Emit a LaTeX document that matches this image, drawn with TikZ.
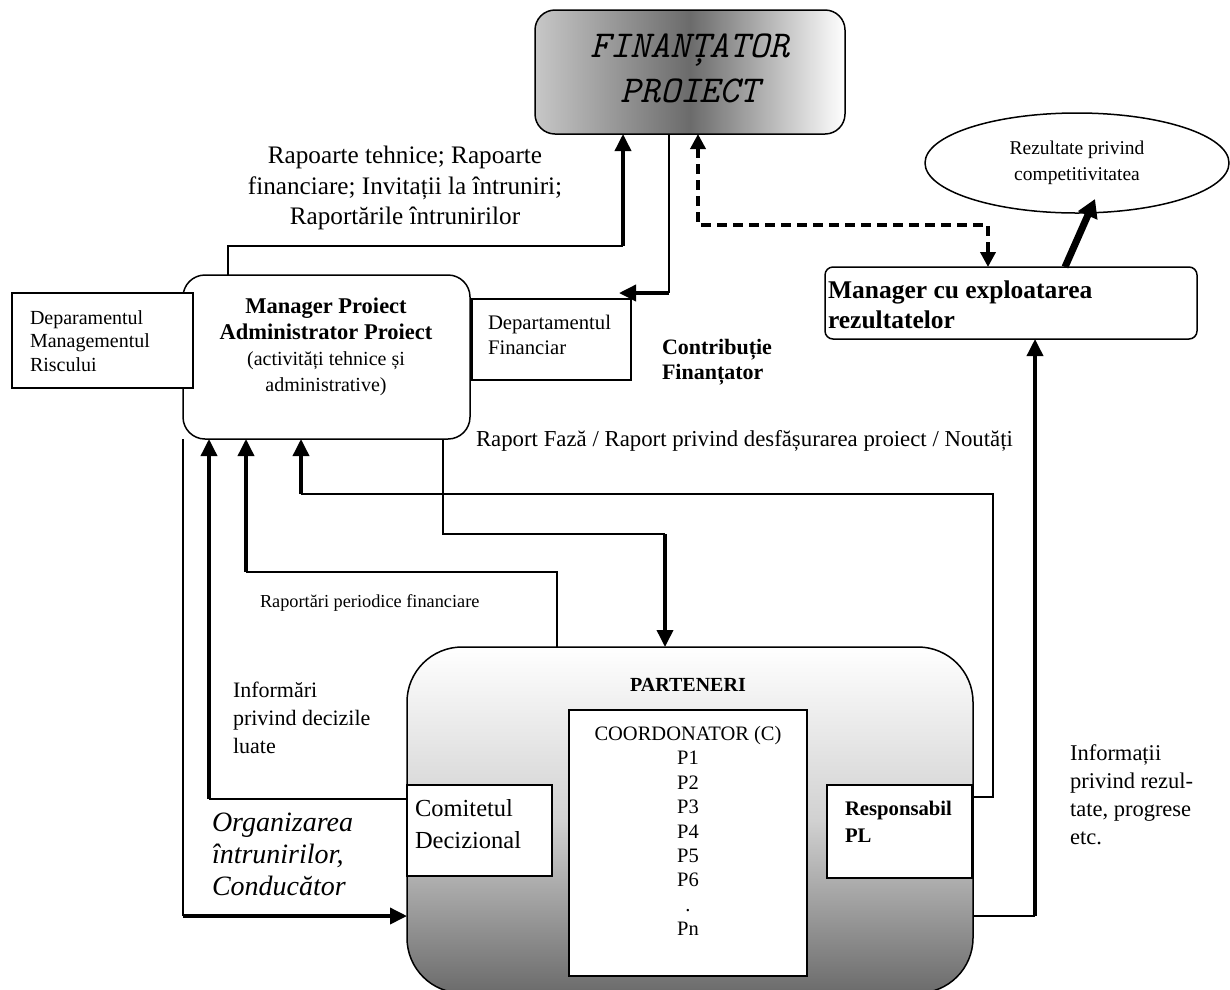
\documentclass[tikz,border=0pt]{standalone}
\usepackage{fontspec}
\setmainfont{Liberation Serif}
\usetikzlibrary{arrows.meta,shapes.geometric,calc}
\begin{document}
\begin{tikzpicture}[x=1pt,y=-1pt,
  ln/.style={line width=1.5pt},
  thk/.style={line width=3.6pt},
  tip/.style={-{Triangle[width=16pt,length=17pt]}},
  box/.style={draw, line width=1.5pt, fill=white, inner sep=0pt, outer sep=0pt},
  lbl/.style={inner sep=0pt, outer sep=0pt, align=left},
]
\useasboundingbox (0,0) rectangle (1230,989);
\fill[white] (0,0) rectangle (1230,989);
\clip (0,0) rectangle (1230,989);

% ---------- nodes ----------
\node[box, rounded corners=20pt, minimum width=310pt, minimum height=124pt,
      left color=black!22, right color=white, middle color=black!58] (fin) at (690,72) {};
\node[lbl, align=center, font=\ttfamily\itshape\fontsize{38}{45}\selectfont] (fint) at (690,68) {FINANȚATOR\\PROIECT};

\node[lbl, align=center, font=\fontsize{25.2}{30.5}\selectfont] (rap) at (405,188)
  {Rapoarte tehnice; Rapoarte\\financiare; Invitații la întruniri;\\Raportările întrunirilor};

\node[box, rounded corners=22pt, minimum width=287pt, minimum height=164pt] (mgr) at (326.5,357) {};
\node[lbl, align=center, font=\fontsize{20}{26}\selectfont] (mgrt) at (326,347)
  {{\fontsize{22.5}{26}\selectfont\bfseries Manager Proiect}\\{\fontsize{22.5}{26}\selectfont\bfseries Administrator Proiect}\\(activități tehnice și\\administrative)};

\node[box, minimum width=181pt, minimum height=95pt] (risk) at (102.5,340.5) {};
\node[lbl, anchor=west, font=\fontsize{20}{23.5}\selectfont] (riskt) at (30,341) {Deparamentul\\Managementul\\Riscului};

\node[box, minimum width=159pt, minimum height=81pt] (depfin) at (551.5,339.5) {};
\node[lbl, anchor=west, font=\fontsize{20.7}{25}\selectfont] (depfint) at (488,334.5) {Departamentul\\Financiar};

\node[lbl, anchor=west, font=\bfseries\fontsize{22}{25}\selectfont] (contr) at (662,362.5) {Contribuție\\Finanțator};

\node[box, rounded corners=8pt, minimum width=372pt, minimum height=72pt] (mex) at (1011,303) {};
\node[lbl, anchor=west, font=\bfseries\fontsize{25.5}{30}\selectfont] (mext) at (828,305) {Manager cu exploatarea\\rezultatelor};

\node[draw, ellipse, line width=1.5pt, minimum width=304pt, minimum height=100pt, inner sep=0pt,
      align=center, font=\fontsize{19.5}{26}\selectfont] (ell) at (1077,163) {Rezultate privind\\competitivitatea};

\node[box, rounded corners=55pt, minimum width=566pt, minimum height=346pt,
      top color=white, bottom color=black!58, middle color=black!18] (part) at (690,820) {};
\node[lbl, font=\bfseries\fontsize{20}{22}\selectfont] (partt) at (688,685) {PARTENERI};
\node[box, minimum width=238pt, minimum height=266pt] (coord) at (688,843) {};
\node[lbl, align=center, font=\fontsize{20.5}{24.4}\selectfont] (coordt) at (688,831)
  {COORDONATOR (C)\\P1\\P2\\P3\\P4\\P5\\P6\\.\\Pn};

\node[box, minimum width=145pt, minimum height=91pt] (comitet) at (479.5,830.5) {};
\node[lbl, anchor=west, font=\fontsize{24.5}{32}\selectfont] (comt) at (415,824) {Comitetul\\Decizional};

\node[box, minimum width=145pt, minimum height=93pt] (resp) at (899.5,831.5) {};
\node[lbl, anchor=west, font=\bfseries\fontsize{20.7}{27}\selectfont] (respt) at (845,821.5) {Responsabil\\PL};

\node[lbl, anchor=west, font=\fontsize{22.8}{24}\selectfont] (rapf) at (476,441) {Raport Fază / Raport privind desfășurarea proiect / Noutăți};
\node[lbl, anchor=west, font=\fontsize{18.3}{20}\selectfont] (rapp) at (260,603) {Raportări periodice financiare};
\node[lbl, anchor=west, font=\fontsize{22}{28}\selectfont] (inf) at (233,718) {Informări\\privind decizile\\luate};
\node[lbl, anchor=west, font=\itshape\fontsize{28}{32}\selectfont] (org) at (212,854) {Organizarea\\întrunirilor,\\Conducător};
\node[lbl, anchor=west, font=\fontsize{22.5}{28}\selectfont] (infr) at (1070,795) {Informații\\privind rezul-\\tate, progrese\\etc.};

% ---------- waypoints ----------
\coordinate (c1a) at (228,246);
\coordinate (c1b) at (623,246);
\coordinate (c2b) at (669,293);
\coordinate (c2e) at (619,293);
\coordinate (d1) at (698,225);
\coordinate (d2) at (988,225);
\coordinate (e0) at (1065,267);
\coordinate (e1) at (1095,199);
\coordinate (p1) at (209,799);
\coordinate (p2a) at (246,572);
\coordinate (p2b) at (557,572);
\coordinate (p3a) at (301,494);
\coordinate (p3b) at (993,494);
\coordinate (p3c) at (993,797);
\coordinate (p4a) at (443,534);
\coordinate (p4b) at (665,534);
\coordinate (p5) at (183,916);
\coordinate (p6) at (1035,916);

% ---------- connectors ----------
\draw[ln] (mgr.north -| c1a) -- (c1a) -- (c1b);
\draw[thk, tip] (c1b) -- (fin.south -| c1b);

\draw[ln] (fin.south -| c2b) -- (c2b);
\draw[thk, tip] (c2b) -- (c2e);

\draw[thk, dash pattern=on 10pt off 6pt,
      {Triangle[width=15pt,length=15pt]}-{Triangle[width=15pt,length=15pt]}]
  (fin.south -| d1) -- (d1) -- (d2) -- (mex.north -| d2);

\draw[line width=7pt, -{Triangle[width=20pt,length=18pt]}] (mex.north -| e0) -- (e1);

\draw[ln] (comitet.west |- p1) -- (p1);
\draw[thk, tip] (p1) -- (mgr.south -| p1);

\draw[ln] (part.north -| p2b) -- (p2b) -- (p2a);
\draw[thk, tip] (p2a) -- (mgr.south -| p2a);

\draw[ln] (part.east |- p3c) -- (p3c) -- (p3b) -- (p3a);
\draw[thk, tip] (p3a) -- (mgr.south -| p3a);

\draw[ln] (mgr.south -| p4a) -- (p4a) -- (p4b);
\draw[thk, tip] (p4b) -- (part.north -| p4b);

\draw[ln] (mgr.south west) -- (p5);
\draw[thk, tip] (p5) -- (part.west |- p5);

\draw[ln] (part.east |- p6) -- (p6);
\draw[thk, tip] (p6) -- (mex.south -| p6);
\end{tikzpicture}
\end{document}
